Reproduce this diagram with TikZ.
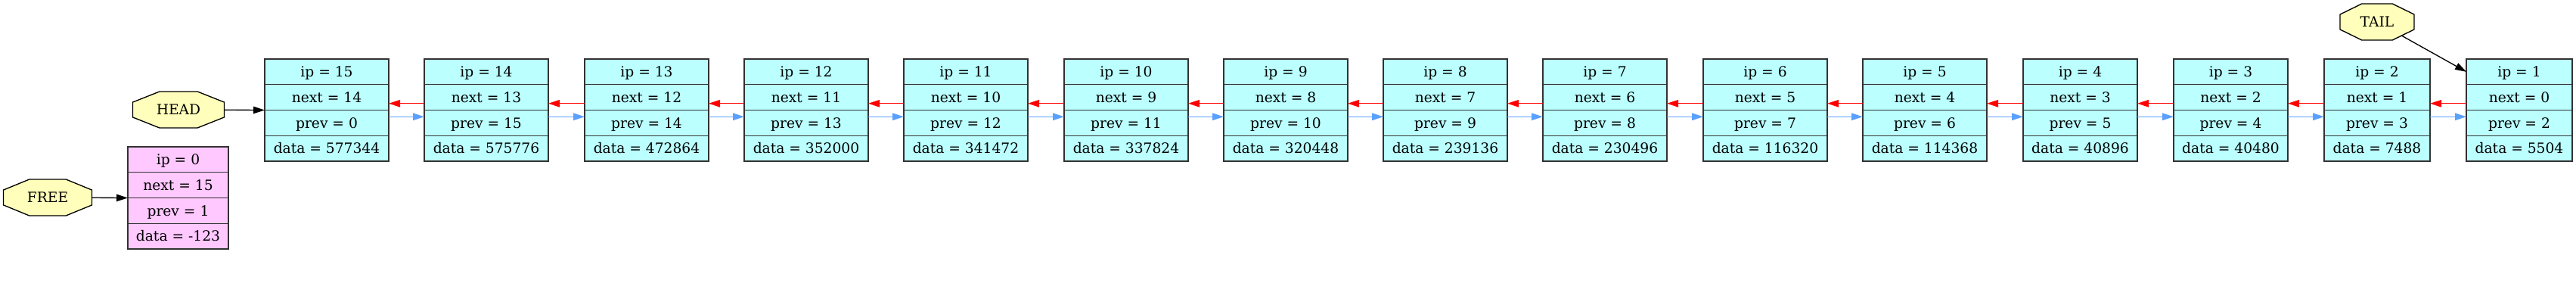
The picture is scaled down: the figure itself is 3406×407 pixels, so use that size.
\documentclass[tikz,border=0pt]{standalone}
\usepackage{fontspec}
\setmainfont{DejaVu Serif}
\usetikzlibrary{arrows.meta}
\definecolor{cellcyan}{RGB}{187,255,255}
\definecolor{cellpink}{RGB}{255,200,255}
\definecolor{octyellow}{RGB}{255,255,187}
\definecolor{bordergray}{RGB}{50,50,50}
\definecolor{nextred}{RGB}{255,0,0}
\definecolor{prevblue}{RGB}{90,160,255}
\tikzset{
  rec/.style={draw=bordergray, line width=1pt, inner sep=0pt, outer sep=0pt},
  livecell/.style={fill=cellcyan},
  freecell/.style={fill=cellpink},
  rowtxt/.style={inner sep=0pt, outer sep=0pt, minimum height=25.3125pt,
    text height=10.2pt, text depth=0pt, font=\fontsize{14}{16}\selectfont},
  recline/.style={draw=bordergray, line width=1pt},
  octshape/.style={draw=black, line width=1pt, fill=octyellow},
  octlabel/.style={inner sep=0pt, outer sep=0pt, text height=10.2pt, text depth=0pt,
    font=\fontsize{14}{16}\selectfont},
  tipshape/.style={-{Triangle[length=11.25pt,width=7.1pt]}},
  ptr/.style={draw=black, line width=1pt, tipshape},
  nextlink/.style={draw=nextred, line width=1pt, tipshape},
  prevlink/.style={draw=prevblue, line width=1pt, tipshape},
}
\newcommand\recnode[9]{%
  \node[rec,#5,minimum width=#4*0.75pt,minimum height=101.25pt,anchor=north west] (#1) at (#2,#3) {};
  \node[rowtxt,minimum width=#4*0.75pt,anchor=north west] (#1-ip) at (#2,#3) {ip = #6};
  \node[rowtxt,minimum width=#4*0.75pt,anchor=north] (#1-next) at (#1-ip.south) {next = #7};
  \node[rowtxt,minimum width=#4*0.75pt,anchor=north] (#1-prev) at (#1-next.south) {prev = #8};
  \node[rowtxt,minimum width=#4*0.75pt,anchor=north] (#1-data) at (#1-prev.south) {data = #9};
  \draw[recline] (#1-ip.south west) -- (#1-ip.south east);
  \draw[recline] (#1-next.south west) -- (#1-next.south east);
  \draw[recline] (#1-prev.south west) -- (#1-prev.south east);
}
\newcommand\octnode[6]{%
  \pgfmathsetmacro\oax{0.5*#4}\pgfmathsetmacro\obx{0.2071*#4}%
  \pgfmathsetmacro\oay{0.5*#5}\pgfmathsetmacro\oby{0.2071*#5}%
  \draw[octshape] (#2-\obx,#3-\oay) -- (#2+\obx,#3-\oay) -- (#2+\oax,#3-\oby) -- (#2+\oax,#3+\oby)
    -- (#2+\obx,#3+\oay) -- (#2-\obx,#3+\oay) -- (#2-\oax,#3+\oby) -- (#2-\oax,#3-\oby) -- cycle;
  \node[octlabel,minimum width=#4*0.75pt,minimum height=#5*0.75pt] (#1) at (#2,#3) {#6};
}
\begin{document}
\begin{tikzpicture}[x=0.75pt,y=-0.75pt]
\useasboundingbox (0,0) rectangle (3406,407);
% records
\recnode{n15}{350}{78}{164}{livecell}{15}{14}{0}{577344}
\recnode{n14}{561}{78}{164}{livecell}{14}{13}{15}{575776}
\recnode{n13}{773}{78}{164}{livecell}{13}{12}{14}{472864}
\recnode{n12}{984}{78}{164}{livecell}{12}{11}{13}{352000}
\recnode{n11}{1195}{78}{164}{livecell}{11}{10}{12}{341472}
\recnode{n10}{1407}{78}{164}{livecell}{10}{9}{11}{337824}
\recnode{n9}{1618}{78}{164}{livecell}{9}{8}{10}{320448}
\recnode{n8}{1829}{78}{164}{livecell}{8}{7}{9}{239136}
\recnode{n7}{2040}{78}{164}{livecell}{7}{6}{8}{230496}
\recnode{n6}{2252}{78}{164}{livecell}{6}{5}{7}{116320}
\recnode{n5}{2463}{78}{164}{livecell}{5}{4}{6}{114368}
\recnode{n4}{2675}{78}{151}{livecell}{4}{3}{5}{40896}
\recnode{n3}{2874}{78}{151}{livecell}{3}{2}{4}{40480}
\recnode{n2}{3073}{78}{140}{livecell}{2}{1}{3}{7488}
\recnode{n1}{3261}{78}{140}{livecell}{1}{0}{2}{5504}
\recnode{n0}{169}{194}{133}{freecell}{0}{15}{1}{-123}
% pointer nodes
\octnode{head}{236}{145}{121}{48}{HEAD}
\octnode{free}{63}{261}{117}{48}{FREE}
\octnode{tail}{3143}{29}{98}{48}{TAIL}
% pointer arrows
\draw[ptr] (head) -- (n15.west);
\draw[ptr] (free) -- (n0.west);
\draw[ptr, shorten <=27.8pt] (tail.center) -- (n1-ip.west);
% next / prev links
\foreach \a/\b in {14/15,13/14,12/13,11/12,10/11,9/10,8/9,7/8,6/7,5/6,4/5,3/4,2/3,1/2}{
  \draw[nextlink] ([yshift=-6.1pt]n\a-next.west) -- ([yshift=-6.1pt]n\b-next.east);
  \draw[prevlink] ([yshift=6.1pt]n\b-prev.east) -- ([yshift=6.1pt]n\a-prev.west);
}
\end{tikzpicture}
\end{document}
